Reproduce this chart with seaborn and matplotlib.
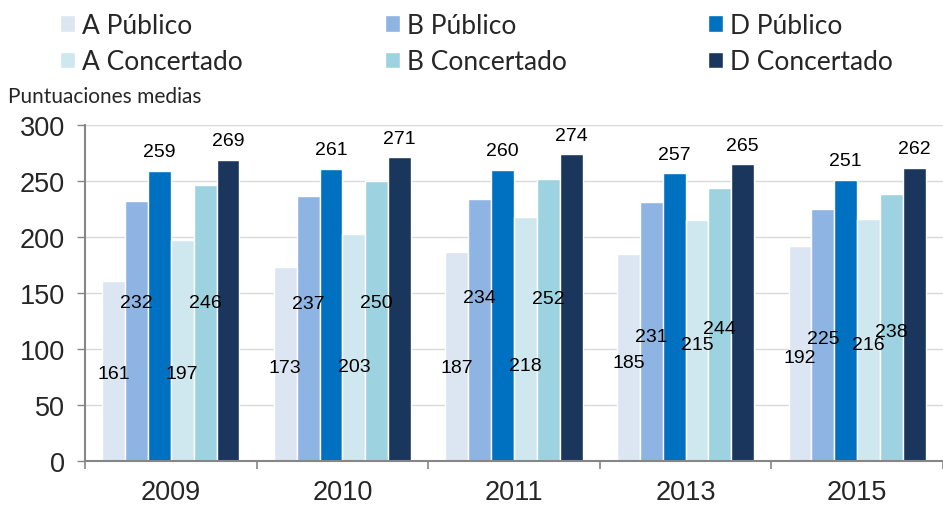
import numpy as np
import pandas as pd
import matplotlib
matplotlib.use('Agg')
import matplotlib.pyplot as plt
import matplotlib.patches as mpatches
import seaborn as sns

# Datos: puntuaciones medias por año y tipo de centro
anios = ['2009', '2010', '2011', '2013', '2015']
series = ['A Público', 'B Público', 'D Público',
          'A Concertado', 'B Concertado', 'D Concertado']
a_publico = [161, 173, 187, 185, 192]
b_publico = [232, 237, 234, 231, 225]
d_publico = [259, 261, 260, 257, 251]
a_concertado = [197, 203, 218, 215, 216]
b_concertado = [246, 250, 252, 244, 238]
d_concertado = [269, 271, 274, 265, 262]

colores = ['#DCE6F2', '#8EB4E3', '#0070C0', '#CFE8EF', '#9DD2E0', '#1B365D']

# altura (centro) de las etiquetas que van dentro de las barras
pos_etiquetas = {
    'A Público': [79.5, 85, 85, 90, 94],
    'B Público': [143, 142, 148, 113, 111],
    'A Concertado': [79.5, 86, 87, 106, 106],
    'B Concertado': [143, 143, 147, 120, 117],
}

valores = [a_publico, b_publico, d_publico, a_concertado, b_concertado, d_concertado]
filas = []
for s, vals in zip(series, valores):
    for a, v in zip(anios, vals):
        filas.append({'anio': a, 'serie': s, 'puntuacion': v})
df = pd.DataFrame(filas)

sns.set_style('white')
plt.rcParams['font.family'] = ['Liberation Sans', 'DejaVu Sans']

fig = plt.figure(figsize=(9.43, 5.06), dpi=100)
ax = fig.add_axes([85 / 943, 44 / 506, (943 - 85) / 943, 336 / 506])

sns.barplot(data=df, x='anio', y='puntuacion', hue='serie', order=anios,
            hue_order=series, palette=colores, saturation=1, width=0.8,
            legend=False, ax=ax)

# etiquetas de datos
for cont, s, vals in zip(ax.containers, series, valores):
    for i, (bar, v) in enumerate(zip(cont.patches, vals)):
        xc = bar.get_x() + bar.get_width() / 2
        if s in pos_etiquetas:
            ax.text(xc, pos_etiquetas[s][i], str(v), ha='center',
                    va='center_baseline', fontsize=14, color='black')
        else:
            ax.text(xc, v + 13, str(v), ha='center', va='baseline',
                    fontsize=14, color='black')

ax.set_ylim(0, 300)
ax.set_xlim(-0.5, 4.46)
ax.set_yticks(np.arange(0, 301, 50))
ax.set_xticks(np.arange(-0.5, 5, 1), minor=True)
ax.set_xlabel('')
ax.set_ylabel('')

ax.yaxis.grid(True, color='#D9D9D9', lw=1)
ax.set_axisbelow(True)
for lado in ['top', 'right']:
    ax.spines[lado].set_visible(False)
for lado in ['left', 'bottom']:
    ax.spines[lado].set_color('#868686')
    ax.spines[lado].set_linewidth(1.5)

ax.tick_params(axis='y', which='major', length=5.5, width=1, color='#868686',
               pad=9, labelsize=19.5, left=True)
ax.tick_params(axis='x', which='major', length=0, pad=13, labelsize=19.5)
ax.tick_params(axis='x', which='minor', length=6, width=1.2, color='#868686',
               bottom=True)

# leyenda en tres columnas
handles = [mpatches.Patch(facecolor=c, label=s) for s, c in zip(series, colores)]
x_cols = [60 / 943, 385 / 943, 708 / 943]
for k in range(3):
    fig.legend(handles=[handles[k], handles[k + 3]], loc='upper left',
               bbox_to_anchor=(x_cols[k], 0.972), frameon=False,
               prop={'family': 'Lato', 'size': 19}, handlelength=0.55,
               handleheight=0.6, handletextpad=0.3, labelspacing=0.42,
               borderpad=0, borderaxespad=0)

fig.text(8 / 943, 1 - 97 / 506, 'Puntuaciones medias', fontsize=15,
         family='Lato', va='center', ha='left')

fig.savefig('out.png', dpi=100)
